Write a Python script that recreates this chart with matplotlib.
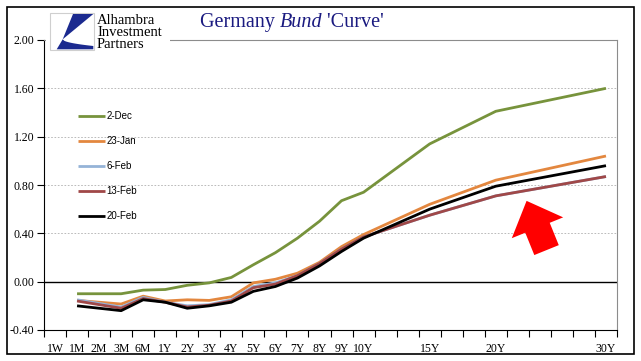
import matplotlib
matplotlib.use('Agg')
import matplotlib.pyplot as plt
from matplotlib.patches import Polygon, Rectangle
import numpy as np

# category axis (blank slots keep the maturity spacing)
labels = ['1W', '1M', '2M', '3M', '6M', '1Y', '2Y', '3Y', '4Y', '5Y', '6Y', '7Y',
          '8Y', '9Y', '10Y', '', '', '15Y', '', '', '20Y', '', '', '', '', '30Y']
tenors = ['1M', '2M', '3M', '6M', '1Y', '2Y', '3Y', '4Y', '5Y', '6Y', '7Y',
          '8Y', '9Y', '10Y', '15Y', '20Y', '30Y']

dec2 = [-0.10, -0.10, -0.10, -0.07, -0.065, -0.03, -0.01, 0.035, 0.14, 0.24,
        0.36, 0.50, 0.67, 0.74, 1.14, 1.41, 1.60]
jan23 = [-0.155, -0.17, -0.185, -0.12, -0.16, -0.15, -0.155, -0.125, -0.01, 0.02,
         0.07, 0.16, 0.29, 0.39, 0.64, 0.84, 1.04]
feb6 = [-0.15, -0.18, -0.21, -0.13, -0.17, -0.20, -0.19, -0.15, -0.04, -0.01,
        0.05, 0.15, 0.27, 0.37, 0.55, 0.71, 0.87]
feb13 = [-0.16, -0.19, -0.22, -0.14, -0.17, -0.21, -0.195, -0.16, -0.05, -0.02,
         0.05, 0.15, 0.27, 0.37, 0.55, 0.71, 0.87]
feb20 = [-0.20, -0.22, -0.24, -0.15, -0.17, -0.22, -0.20, -0.17, -0.08, -0.04,
         0.03, 0.13, 0.25, 0.36, 0.60, 0.79, 0.96]

series = [('2-Dec', dec2, '#77933C'),
          ('23-Jan', jan23, '#E3873F'),
          ('6-Feb', feb6, '#95B3D7'),
          ('13-Feb', feb13, '#A04848'),
          ('20-Feb', feb20, 'black')]

W, H = 641, 361
fig = plt.figure(figsize=(W / 100, H / 100), dpi=100)

def px(x, y):
    return (x / W, 1 - y / H)

ax = fig.add_axes([44 / W, 1 - 330 / H, (617 - 44) / W, (330 - 40) / H])

xpos = [labels.index(t) for t in tenors]
for name, vals, col in series:
    ax.plot(xpos, vals, color=col, lw=2, label=name, solid_capstyle='butt', zorder=3)

ax.set_xlim(-0.5, len(labels) - 0.5)
ax.set_ylim(-0.4, 2.0)
yt = np.arange(-0.4, 2.01, 0.4)
ax.set_yticks(yt)
ax.set_yticklabels([f'{v:.2f}' for v in yt], fontfamily='Liberation Serif', fontsize=8.5)
for v in yt[2:-1]:
    ax.axhline(v, color='#b0b0b0', lw=0.6, ls=(0, (2, 2)), zorder=1)
ax.axhline(0, color='black', lw=1, zorder=2)

ax.set_xticks(range(len(labels)))
ax.set_xticklabels(labels, fontfamily='Liberation Serif', fontsize=8.5)
ax.set_xticks(np.arange(-0.5, len(labels), 1), minor=True)
ax.tick_params(axis='x', which='major', length=0, pad=9)
ax.tick_params(axis='x', which='minor', length=5, direction='out', width=0.8)
ax.tick_params(axis='y', length=5, direction='out', width=0.8, pad=2)

for s in ['top', 'right']:
    ax.spines[s].set_color('#8c8c8c')
for s in ['left', 'bottom']:
    ax.spines[s].set_color('black')

leg = ax.legend(loc='upper left', bbox_to_anchor=(0.059, 0.755), frameon=False,
                prop={'family': 'Liberation Sans', 'size': 7}, handlelength=2.8,
                handletextpad=0.15, labelspacing=1.55, borderpad=0, borderaxespad=0)

# red arrow pointing at the flattening long end
ax.annotate('', xy=(21.35, 0.69), xytext=(22.35, 0.24),
            arrowprops=dict(arrowstyle='simple,head_length=1.1,head_width=2.1,tail_width=1.0',
                            color='red', lw=0, mutation_scale=19), zorder=4)

# outer frame
fig.add_artist(Rectangle(px(7, 354), 627 / W, 347 / H, transform=fig.transFigure,
                         fill=False, ec='black', lw=1.2))

# logo
fig.add_artist(Rectangle(px(46, 52), (170 - 46) / W, 41 / H, transform=fig.transFigure,
                         fc='white', ec='none', zorder=5))
fig.add_artist(Rectangle(px(50, 50), 44 / W, 37 / H, transform=fig.transFigure,
                         fc='white', ec='#cfcfcf', lw=0.8, zorder=6))
navy = '#1B2A8F'
fig.add_artist(Polygon([px(73, 14), px(93.3, 14), px(62.7, 39.3)], closed=True,
                       transform=fig.transFigure, fc=navy, ec='none', zorder=7))
t = np.linspace(0, 1, 20)
cx = 62.7 + (93.3 - 62.7) * t
cy = 39.3 + 6.7 * np.sqrt(t)
lower = [px(62.7, 39.3)] + [px(a, b) for a, b in zip(cx, cy)] + [px(93.3, 49.3), px(56.7, 49.3)]
fig.add_artist(Polygon(lower, closed=True, transform=fig.transFigure, fc=navy, ec='none', zorder=7))
for i, word in enumerate(['Alhambra', 'Investment', 'Partners']):
    fig.text(*px(97, 21 + 12 * i), word, fontfamily='Liberation Serif', fontsize=10.5,
             va='center', ha='left', color='black', zorder=8)

# title with italic word
title_col = '#1a1a80'
tx, ty = px(200, 27)
renderer = fig.canvas.get_renderer()
x = tx
for part, style in [('Germany ', 'normal'), ('Bund', 'italic'), (" 'Curve'", 'normal')]:
    tt = fig.text(x, ty, part, fontfamily='Liberation Serif', fontsize=14.5, style=style,
                  color=title_col, va='baseline', ha='left')
    x += tt.get_window_extent(renderer).width / W

fig.savefig('out.png', dpi=100)
